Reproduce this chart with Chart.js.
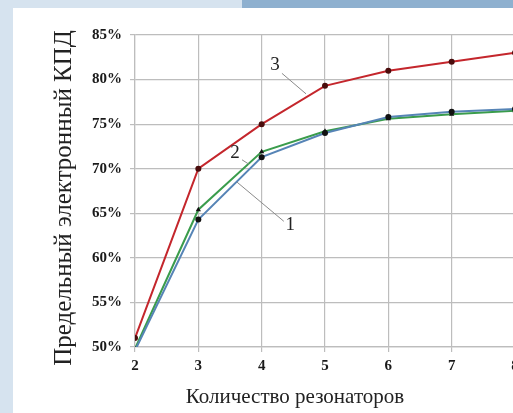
<!DOCTYPE html>
<html>
<head>
<meta charset="utf-8">
<script src="https://cdn.jsdelivr.net/npm/chart.js@4.4.1/dist/chart.umd.min.js"></script>
<style>
  html, body { margin: 0; padding: 0; width: 513px; height: 413px; overflow: hidden; background: #d6e3ef; }
  .top-dark { position: absolute; left: 242px; top: 0; width: 271px; height: 8px; background: #8eb0cf; }
  .sheet { position: absolute; left: 13px; top: 8px; width: 520px; height: 405px; background: #fff; }
</style>
</head>
<body>
<div class="top-dark"></div>
<div class="sheet"><canvas id="chartKpd" width="520" height="405"></canvas></div>
<script>
// ══════════════════════════════════════
// Предельный электронный КПД vs number of resonators
// ══════════════════════════════════════

const resonators = [2, 3, 4, 5, 6, 7, 8];
const kpd1 = [49.6, 64.3, 71.3, 74.0, 75.8, 76.4, 76.7];   // curve 1 (blue)
const kpd2 = [49.8, 65.4, 71.9, 74.2, 75.6, 76.1, 76.5];   // curve 2 (green)
const kpd3 = [51.0, 70.0, 75.0, 79.3, 81.0, 82.0, 83.0];   // curve 3 (red)
const yTicks = [50, 55, 60, 65, 70, 75, 80, 85];

const X_TITLE = 'Количество резонаторов';
const Y_TITLE = 'Предельный электронный КПД';

// curve labels with leader lines, in data units: [label, textX, textY, fromX, fromY, toX, toY]
const curveLabels = [
  ['1', 4.45, 63.7, 4.35, 64.1, 3.61, 68.5],
  ['2', 3.58, 71.8, 3.69, 71.0, 3.80, 70.5],
  ['3', 4.21, 81.6, 4.32, 80.7, 4.70, 78.4],
];

const SERIF = "'Liberation Serif','DejaVu Serif',serif";

const toXY = arr => arr.map((v, i) => ({ x: resonators[i], y: v }));

const ds = (data, col, ptStyle, ptCol) => ({
  data: toXY(data),
  borderColor: col,
  backgroundColor: col,
  borderWidth: 2,
  tension: 0,
  pointStyle: ptStyle,
  pointRadius: 3,
  pointBackgroundColor: ptCol,
  pointBorderColor: ptCol,
  pointBorderWidth: 0,
  clip: { left: 0, top: false, right: false, bottom: 0 },
});

const labelsPlugin = {
  id: 'curveLabels',
  afterDatasetsDraw(chart) {
    const { ctx, scales: { x, y } } = chart;
    ctx.save();
    ctx.strokeStyle = '#8a8a8a';
    ctx.lineWidth = 1;
    ctx.fillStyle = '#222';
    ctx.font = "19px " + SERIF;
    ctx.textAlign = 'center';
    ctx.textBaseline = 'middle';
    curveLabels.forEach(([t, tx, ty, fx, fy, ex, ey]) => {
      ctx.beginPath();
      ctx.moveTo(x.getPixelForValue(fx), y.getPixelForValue(fy));
      ctx.lineTo(x.getPixelForValue(ex), y.getPixelForValue(ey));
      ctx.stroke();
      ctx.fillText(t, x.getPixelForValue(tx), y.getPixelForValue(ty));
    });
    ctx.restore();
  },
  afterDraw(chart) {
    const ctx = chart.ctx;
    ctx.save();
    ctx.fillStyle = '#222';
    ctx.textAlign = 'center';
    ctx.textBaseline = 'middle';
    ctx.font = "21px " + SERIF;
    ctx.fillText(X_TITLE, 282, 389);
    ctx.translate(51, 190);
    ctx.rotate(-Math.PI / 2);
    ctx.font = "25px " + SERIF;
    ctx.fillText(Y_TITLE, 0, 0);
    ctx.restore();
  },
};

new Chart(document.getElementById('chartKpd'), {
  type: 'line',
  data: {
    datasets: [
      ds(kpd1, '#5684b6', 'circle', '#111'),
      ds(kpd2, '#3a9c4c', 'triangle', '#111'),
      ds(kpd3, '#c4262c', 'circle', '#4a0c0c'),
    ],
  },
  options: {
    responsive: false,
    animation: false,
    layout: { padding: { left: 0, right: 18, top: 27, bottom: 0 } },
    plugins: { legend: { display: false }, tooltip: { enabled: false } },
    scales: {
      x: {
        type: 'linear',
        min: 2, max: 8,
        afterBuildTicks: s => { s.ticks = resonators.map(v => ({ value: v })); },
        afterFit: s => { s.height = 66; },
        grid: { color: '#bdbdbd', lineWidth: 1.2, tickLength: 5 },
        border: { color: '#bdbdbd', width: 1.2 },
        ticks: { color: '#1a1a1a', padding: 5, maxRotation: 0, font: { family: SERIF, size: 15, weight: 'bold' } },
      },
      y: {
        min: 50, max: 85,
        afterBuildTicks: s => { s.ticks = yTicks.map(v => ({ value: v })); },
        afterFit: s => { s.width = 122; },
        grid: { color: '#bdbdbd', lineWidth: 1.2, tickLength: 5 },
        border: { color: '#bdbdbd', width: 1.2 },
        ticks: { color: '#1a1a1a', padding: 8, callback: v => v + '%', font: { family: SERIF, size: 15, weight: 'bold' } },
      },
    },
  },
  plugins: [labelsPlugin],
});
</script>
</body>
</html>
